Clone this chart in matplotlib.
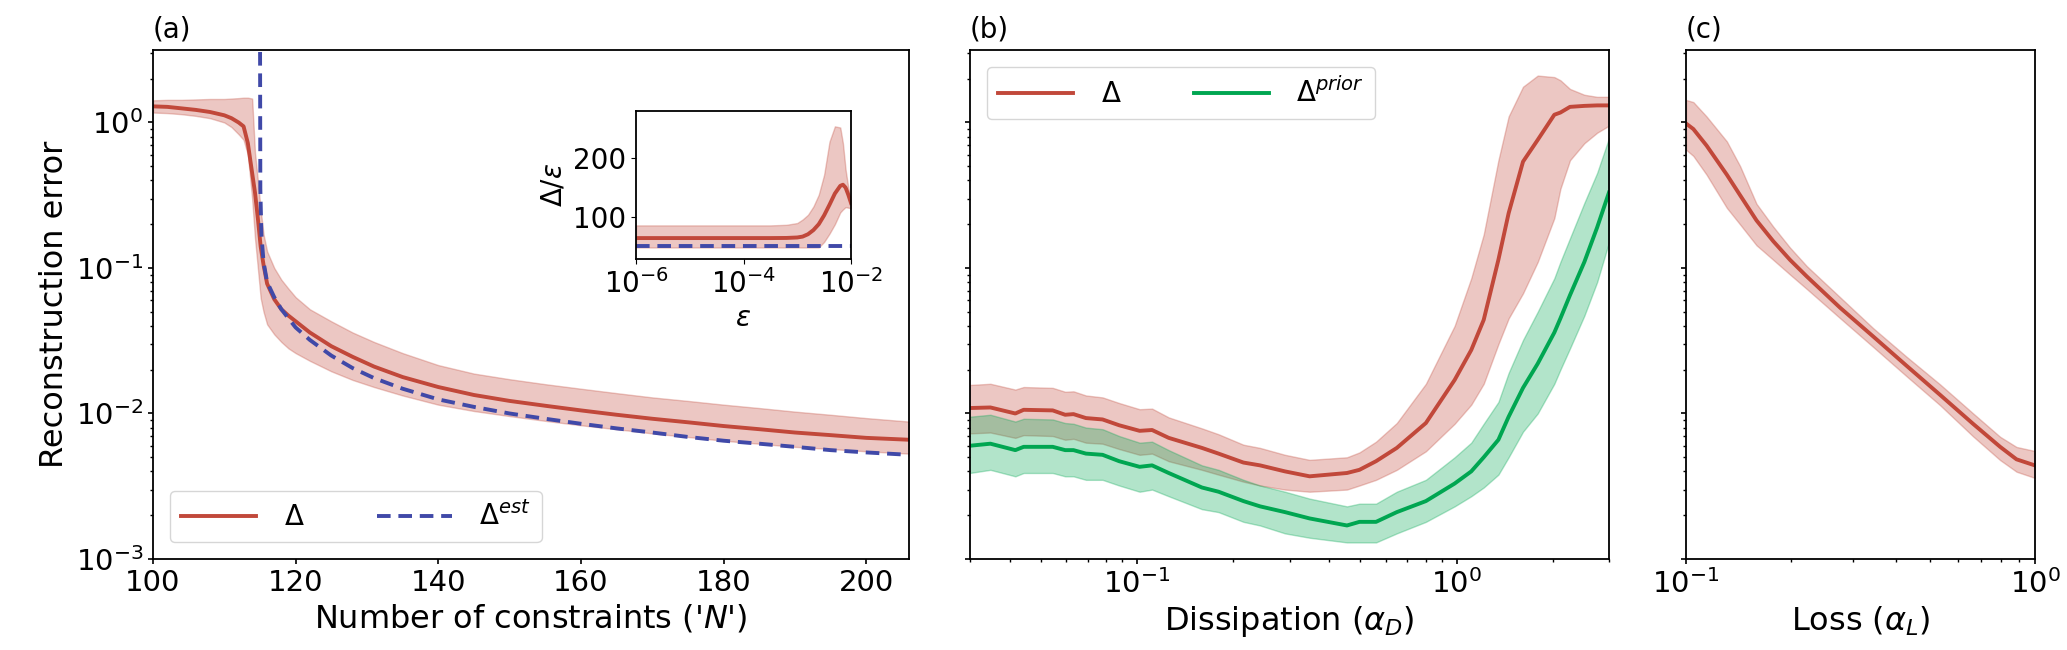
import numpy as np
import matplotlib
matplotlib.use("Agg")
import matplotlib.pyplot as plt
from matplotlib.ticker import NullFormatter

# ---- panel (a): reconstruction error vs number of constraints
N = [100, 102, 104, 106, 108, 110, 111, 112, 112.7, 113.3, 113.9, 114.3, 114.7, 115.1,
     115.5, 116, 117, 118, 119, 120, 122, 125, 128, 131, 135, 140, 145, 150, 155, 160,
     165, 170, 175, 180, 185, 190, 195, 200, 206]
err = [1.29, 1.28, 1.25, 1.22, 1.18, 1.12, 1.07, 1.0, 0.94, 0.72, 0.45, 0.33, 0.22, 0.14,
       0.105, 0.078, 0.061, 0.052, 0.047, 0.043, 0.036, 0.029, 0.0245, 0.021, 0.0178, 0.0152,
       0.0134, 0.0122, 0.0113, 0.0105, 0.0098, 0.0092, 0.0087, 0.0082, 0.0078, 0.0074,
       0.0071, 0.0068, 0.0066]
err_hi = [1.42, 1.43, 1.43, 1.44, 1.45, 1.45, 1.46, 1.47, 1.48, 1.48, 1.46, 0.62, 0.4, 0.25,
          0.17, 0.13, 0.1, 0.083, 0.072, 0.063, 0.052, 0.043, 0.036, 0.031, 0.026, 0.0215,
          0.0188, 0.0172, 0.0159, 0.0148, 0.0138, 0.0129, 0.0122, 0.0115, 0.0109, 0.0103,
          0.0098, 0.0093, 0.0088]
err_lo = [1.17, 1.16, 1.14, 1.11, 1.07, 1.0, 0.93, 0.83, 0.76, 0.6, 0.3, 0.16, 0.1, 0.062,
          0.05, 0.041, 0.035, 0.031, 0.028, 0.026, 0.023, 0.0195, 0.017, 0.0152, 0.0133,
          0.0115, 0.0104, 0.0096, 0.0089, 0.0083, 0.0078, 0.0073, 0.0069, 0.0065, 0.0062,
          0.0059, 0.0057, 0.0055, 0.0053]

N_est = [115.0, 115.05, 115.2, 115.5, 116, 117, 118, 119, 120, 122, 125, 128, 131, 135, 140,
         145, 150, 155, 160, 165, 170, 175, 180, 185, 190, 195, 200, 206]
err_est = [6.0, 0.35, 0.17, 0.11, 0.08, 0.063, 0.052, 0.045, 0.039, 0.032, 0.025, 0.0205,
           0.0175, 0.0148, 0.0125, 0.0111, 0.0100, 0.0092, 0.0085, 0.0079, 0.0074, 0.0069,
           0.0065, 0.0062, 0.0059, 0.0056, 0.0054, 0.0052]

# ---- inset: error / eps vs eps
eps_log = [-6, -5, -4, -3.5, -3.2, -3.0, -2.9, -2.8, -2.7, -2.6, -2.5, -2.4, -2.3, -2.2,
           -2.15, -2.1, -2.05, -2.0]
ratio = [64.5, 64.5, 64.5, 64.5, 64.7, 65.5, 67, 71, 78, 88, 103, 121, 140, 153, 155, 150,
         138, 124]
ratio_hi = [86, 86, 86, 86, 87, 90, 96, 104, 118, 138, 172, 228, 254, 252, 225, 180, 150, 129]
ratio_lo = [48.5, 48.5, 48.5, 48.5, 48.5, 48.5, 48.5, 48.5, 48.5, 48.6, 58, 72, 88, 108, 113,
            117, 116, 115]
ratio_est = 51

# ---- panel (b): dissipation
aD_log = [-1.524, -1.459, -1.381, -1.355, -1.264, -1.225, -1.199, -1.160, -1.108, -1.056,
          -0.992, -0.953, -0.901, -0.797, -0.745, -0.667, -0.615, -0.537, -0.460, -0.343,
          -0.304, -0.252, -0.187, -0.096, -0.006, 0.046, 0.085, 0.131, 0.163, 0.208, 0.254,
          0.306, 0.325, 0.355, 0.40, 0.44, 0.477]
dD = [0.0109, 0.0110, 0.0100, 0.0106, 0.0105, 0.0098, 0.0099, 0.0093, 0.0091, 0.0083,
      0.0076, 0.0077, 0.0068, 0.0058, 0.0053, 0.0046, 0.0044, 0.0040, 0.0037, 0.0039,
      0.0041, 0.0047, 0.0058, 0.0086, 0.0170, 0.0273, 0.044, 0.114, 0.238, 0.538, 0.759,
      1.13, 1.17, 1.28, 1.30, 1.31, 1.31]
dD_hi = [0.0157, 0.0160, 0.0146, 0.0152, 0.0150, 0.0141, 0.0142, 0.0133, 0.0129, 0.0118,
         0.0107, 0.0108, 0.0094, 0.0079, 0.0072, 0.0061, 0.0058, 0.0052, 0.0048, 0.0050,
         0.0054, 0.0064, 0.0086, 0.016, 0.040, 0.085, 0.17, 0.55, 1.1, 1.76, 2.1, 2.05,
         1.95, 1.7, 1.55, 1.5, 1.5]
dD_lo = [0.0073, 0.0074, 0.0068, 0.0071, 0.0070, 0.0066, 0.0067, 0.0063, 0.0062, 0.0057,
         0.0052, 0.0053, 0.0047, 0.0041, 0.0038, 0.0034, 0.0032, 0.0030, 0.0029, 0.0030,
         0.0032, 0.0035, 0.0041, 0.0055, 0.0085, 0.0115, 0.016, 0.030, 0.045, 0.067, 0.11,
         0.22, 0.35, 0.55, 0.72, 0.85, 0.95]

dP = [0.0060, 0.0062, 0.0056, 0.0059, 0.0059, 0.0056, 0.0056, 0.0053, 0.0052, 0.0047,
      0.0043, 0.0044, 0.0039, 0.0031, 0.0029, 0.0025, 0.0023, 0.0021, 0.0019, 0.0017,
      0.0018, 0.0018, 0.0021, 0.0025, 0.0033, 0.0040, 0.0050, 0.0066, 0.0095, 0.0150,
      0.0220, 0.036, 0.045, 0.065, 0.11, 0.19, 0.33]
dP_hi = [0.0095, 0.0098, 0.0088, 0.0092, 0.0091, 0.0086, 0.0085, 0.0080, 0.0078, 0.0070,
         0.0063, 0.0064, 0.0056, 0.0044, 0.0041, 0.0035, 0.0032, 0.0029, 0.0026, 0.0023,
         0.0024, 0.0024, 0.0029, 0.0035, 0.0050, 0.0063, 0.0085, 0.012, 0.019, 0.032,
         0.050, 0.085, 0.11, 0.16, 0.28, 0.45, 0.78]
dP_lo = [0.0039, 0.0041, 0.0037, 0.0039, 0.0039, 0.0037, 0.0037, 0.0035, 0.0035, 0.0032,
         0.0029, 0.0030, 0.0027, 0.0022, 0.0021, 0.0018, 0.0017, 0.0015, 0.0014, 0.0013,
         0.0013, 0.0013, 0.0015, 0.0018, 0.0023, 0.0027, 0.0031, 0.0038, 0.0050, 0.0075,
         0.0100, 0.016, 0.020, 0.028, 0.047, 0.08, 0.15]

# ---- panel (c): loss
aL_log = [-1.0, -0.979, -0.941, -0.883, -0.845, -0.798, -0.750, -0.702, -0.654, -0.559,
          -0.463, -0.368, -0.272, -0.177, -0.100, -0.053, 0.0]
dL_log = [-0.007, -0.045, -0.159, -0.359, -0.500, -0.673, -0.816, -0.944, -1.058, -1.272,
          -1.472, -1.672, -1.872, -2.072, -2.229, -2.315, -2.357]
dL_hi_log = [0.155, 0.14, 0.041, -0.13, -0.30, -0.559, -0.716, -0.86, -0.987, -1.20,
             -1.415, -1.61, -1.80, -2.0, -2.16, -2.23, -2.258]
dL_lo_log = [-0.187, -0.23, -0.359, -0.587, -0.701, -0.844, -0.944, -1.045, -1.144, -1.344,
             -1.544, -1.744, -1.943, -2.158, -2.32, -2.40, -2.443]

red = "#c1483a"
blue = "#4049a8"
green = "#00a651"

fig = plt.figure(figsize=(20.67, 6.5), dpi=100)
W, H = 2067, 650


def box(x0, x1, y0, y1):
    return [x0 / W, 1 - y1 / H, (x1 - x0) / W, (y1 - y0) / H]


ax_a = fig.add_axes(box(153, 909, 50, 559))
ax_b = fig.add_axes(box(970, 1609, 50, 559), sharey=ax_a)
ax_c = fig.add_axes(box(1686, 2035, 50, 559), sharey=ax_a)
ins = fig.add_axes(box(636, 851, 111, 259))

# (a)
ax_a.fill_between(N, err_lo, err_hi, color=red, alpha=0.3, lw=1)
ax_a.plot(N, err, color=red, lw=2.8, label=r"$\Delta$")
ax_a.plot(N_est, err_est, color=blue, lw=2.8, ls=(0, (3.5, 2)), label=r"$\Delta^{est}$")
ax_a.set_yscale("log")
ax_a.set_ylim(1e-3, 10 ** 0.498)
ax_a.set_xlim(100, 206)
ax_a.set_xticks([100, 120, 140, 160, 180, 200])
ax_a.set_xlabel("Number of constraints ('$N$')", fontsize=23)
ax_a.set_ylabel("Reconstruction error", fontsize=23)
ax_a.legend(loc="lower left", ncol=2, fontsize=20, handlelength=2.7, columnspacing=2.6,
            handletextpad=1.0, borderaxespad=0.6)

# inset
eps = 10 ** np.array(eps_log)
ins.fill_between(eps, ratio_lo, ratio_hi, color=red, alpha=0.3, lw=1)
ins.plot(eps, ratio, color=red, lw=2.8)
ins.axhline(ratio_est, color=blue, lw=2.8, ls=(0, (3.5, 2)))
ins.set_xscale("log")
ins.set_xlim(1e-6, 1e-2)
ins.set_ylim(29, 280)
ins.set_xticks([1e-6, 1e-4, 1e-2])
ins.minorticks_off()
ins.set_yticks([100, 200])
ins.tick_params(labelsize=20)
ins.set_xlabel(r"$\varepsilon$", fontsize=20)
ins.set_ylabel(r"$\Delta/\varepsilon$", fontsize=20)

# (b)
aD = 10 ** np.array(aD_log)
ax_b.fill_between(aD, dD_lo, dD_hi, color=red, alpha=0.3, lw=1)
ax_b.fill_between(aD, dP_lo, dP_hi, color=green, alpha=0.3, lw=1)
ax_b.plot(aD, dD, color=red, lw=2.8, label=r"$\Delta$")
ax_b.plot(aD, dP, color=green, lw=2.8, label=r"$\Delta^{prior}$")
ax_b.set_xscale("log")
ax_b.set_xlim(0.03, 3)
ax_b.set_xlabel(r"Dissipation ($\alpha_D$)", fontsize=23)
ax_b.legend(loc="upper left", ncol=2, fontsize=20, handlelength=2.7, columnspacing=2.6,
            handletextpad=1.0, borderaxespad=0.6)

# (c)
aL = 10 ** np.array(aL_log)
ax_c.fill_between(aL, 10 ** np.array(dL_lo_log), 10 ** np.array(dL_hi_log),
                  color=red, alpha=0.3, lw=1)
ax_c.plot(aL, 10 ** np.array(dL_log), color=red, lw=2.8)
ax_c.set_xscale("log")
ax_c.set_xlim(0.1, 1)
ax_c.xaxis.set_minor_formatter(NullFormatter())
ax_c.set_xlabel(r"Loss ($\alpha_L$)", fontsize=23)

for ax, lab in [(ax_a, "(a)"), (ax_b, "(b)"), (ax_c, "(c)")]:
    ax.set_title(lab, loc="left", fontsize=20, pad=9)
    ax.tick_params(labelsize=21, width=1.2)
    ax.tick_params(which="minor", width=1.0)
    for s in ax.spines.values():
        s.set_linewidth(1.3)
for ax in (ax_b, ax_c):
    ax.tick_params(labelleft=False)
for s in ins.spines.values():
    s.set_linewidth(1.3)

fig.savefig("out.png", dpi=100)
